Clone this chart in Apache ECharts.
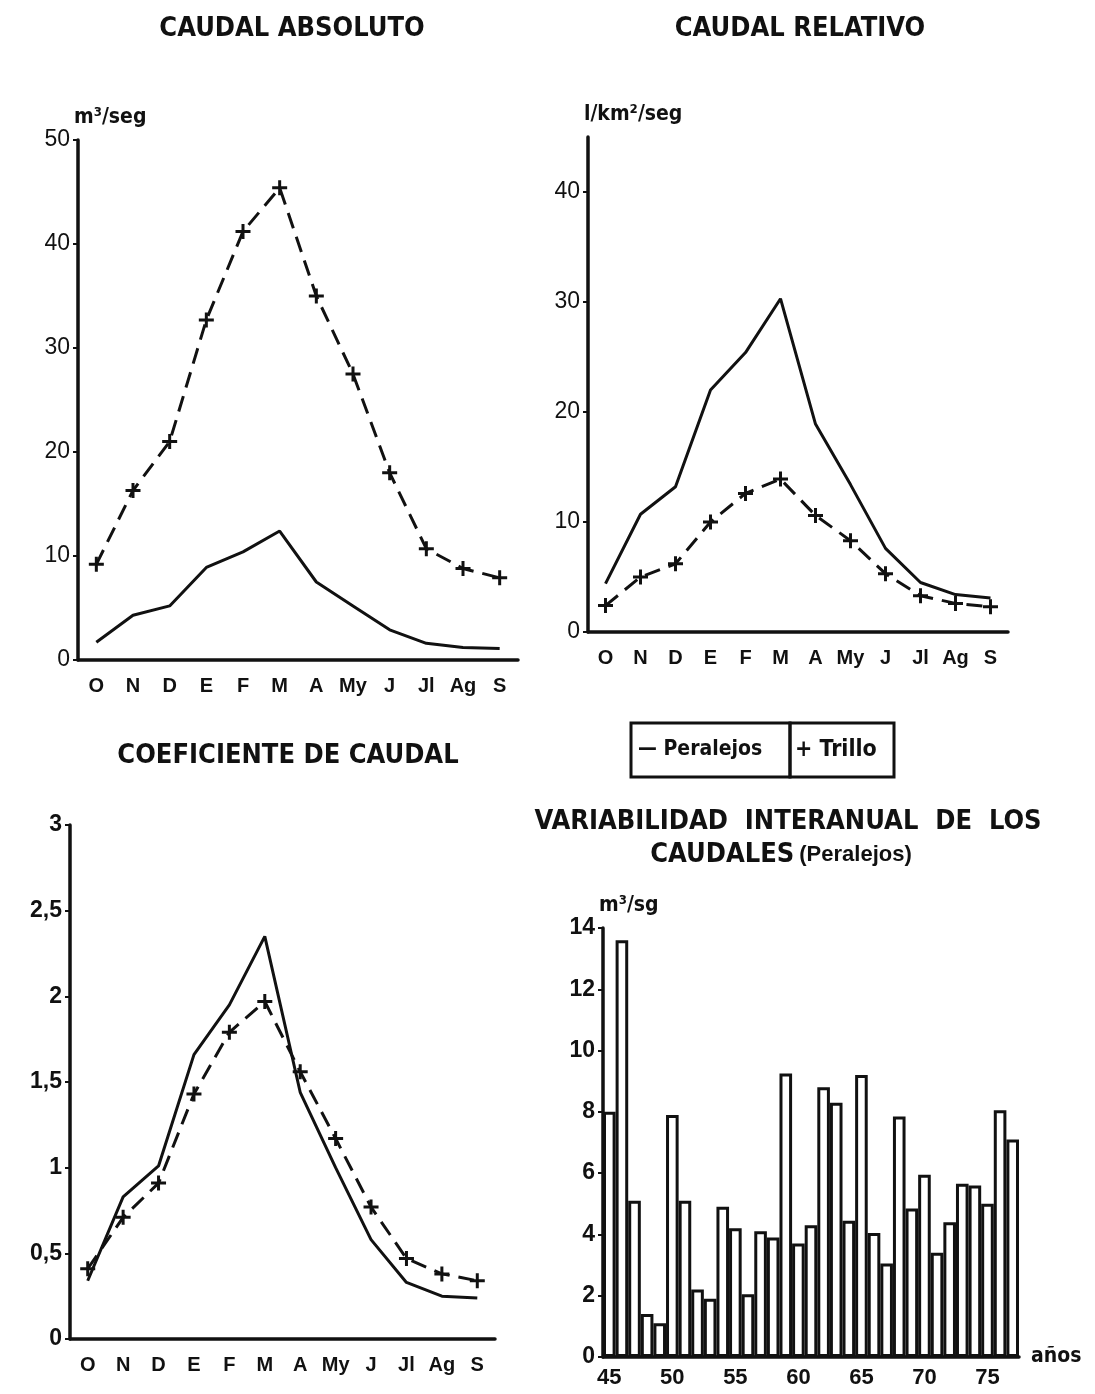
<!DOCTYPE html>
<html>
<head>
<meta charset="utf-8">
<script src="https://cdn.jsdelivr.net/npm/echarts@6/dist/echarts.min.js"></script>
<style>
  html, body { margin: 0; padding: 0; background: #fff; }
  #main { width: 1095px; height: 1394px; }
</style>
</head>
<body>
<div id="main"></div>
<script>
// meses del año hidrológico
var meses = ['O', 'N', 'D', 'E', 'F', 'M', 'A', 'My', 'J', 'Jl', 'Ag', 'S'];

// caudal absoluto (m3/seg)
var absPeralejos = [1.7, 4.3, 5.2, 8.9, 10.4, 12.4, 7.5, 5.2, 2.9, 1.6, 1.2, 1.1];
var absTrillo = [9.2, 16.3, 21.0, 32.7, 41.2, 45.4, 35.0, 27.5, 18.0, 10.7, 8.8, 7.9];

// caudal relativo (l/km2/seg)
var relPeralejos = [4.4, 10.7, 13.2, 22.0, 25.4, 30.3, 18.9, 13.4, 7.6, 4.5, 3.4, 3.1];
var relTrillo = [2.4, 5.0, 6.2, 10.0, 12.6, 13.9, 10.6, 8.3, 5.3, 3.3, 2.6, 2.3];

// coeficiente de caudal
var coefPeralejos = [0.34, 0.83, 1.01, 1.66, 1.95, 2.35, 1.44, 1.0, 0.58, 0.33, 0.25, 0.24];
var coefTrillo = [0.41, 0.71, 0.91, 1.43, 1.79, 1.97, 1.56, 1.17, 0.77, 0.47, 0.38, 0.34];

// variabilidad interanual (Peralejos), m3/sg
var anos = [];
for (var a = 45; a <= 77; a++) anos.push(String(a));
var caudalAnual = [8.0, 13.6, 5.1, 1.4, 1.1, 7.9, 5.1, 2.2, 1.9, 4.9, 4.2, 2.05,
  4.1, 3.9, 9.25, 3.7, 4.3, 8.8, 8.3, 4.45, 9.2, 4.05, 3.05, 7.85, 4.85, 5.95,
  3.4, 4.4, 5.65, 5.6, 5.0, 8.05, 7.1];

var FONT = '"Liberation Sans", "DejaVu Sans", sans-serif';
var NARROW = '"Liberation Sans Narrow", "DejaVu Sans Condensed", "Liberation Sans", sans-serif';
var PLUS = 'path://M4,0h2v4h4v2h-4v4h-2v-4h-4v-2h4z';

function ejeX(grid, tick) {
  return {
    type: 'category', gridIndex: grid, data: meses, boundaryGap: true,
    axisLine: { lineStyle: { color: '#111', width: 3.5 } },
    axisTick: { alignWithLabel: true, interval: 0, length: tick, lineStyle: { color: '#111', width: 3 } },
    axisLabel: { color: '#111', fontSize: 20, fontWeight: 'bold', fontFamily: FONT, margin: 16, interval: 0 },
    splitLine: { show: false }
  };
}
function ejeY(grid, max, interval, nombre, fmt, bold) {
  return {
    type: 'value', gridIndex: grid, min: 0, max: max, interval: interval,
    name: nombre, nameLocation: 'end', nameGap: 12,
    nameTextStyle: { color: '#111', fontSize: 21, fontWeight: 'bold', fontFamily: NARROW, align: 'left', verticalAlign: 'bottom', padding: [0, 0, 0, -4] },
    axisLine: { show: true, lineStyle: { color: '#111', width: 3.5 } },
    axisTick: { show: true, length: 5, lineStyle: { color: '#111', width: 2 } },
    axisLabel: { color: '#111', fontSize: 23, fontWeight: bold ? 'bold' : 'normal', fontFamily: FONT, margin: 8, showMaxLabel: max % interval === 0, formatter: fmt },
    splitLine: { show: false }
  };
}
function linea(grid, datos) {
  return {
    type: 'line', xAxisIndex: grid, yAxisIndex: grid, data: datos,
    showSymbol: false, symbol: 'none', silent: true,
    lineStyle: { color: '#111', width: 3 }
  };
}
function lineaTrillo(grid, datos) {
  return {
    type: 'line', xAxisIndex: grid, yAxisIndex: grid, data: datos,
    symbol: PLUS, symbolSize: 15, silent: true,
    itemStyle: { color: '#111' },
    lineStyle: { color: '#111', width: 3, type: [16, 9] }
  };
}

var chart = echarts.init(document.getElementById('main'), null, { renderer: 'canvas' });
var option = {
  backgroundColor: '#fff',
  animation: false,
  title: [
    { text: 'CAUDAL ABSOLUTO', left: 287, top: 10, textAlign: 'center', textStyle: { fontFamily: NARROW, fontSize: 27, fontWeight: 'bold', color: '#111' } },
    { text: 'CAUDAL RELATIVO', left: 795, top: 10, textAlign: 'center', textStyle: { fontFamily: NARROW, fontSize: 27, fontWeight: 'bold', color: '#111' } },
    { text: 'COEFICIENTE DE CAUDAL', left: 283, top: 737, textAlign: 'center', textStyle: { fontFamily: NARROW, fontSize: 27, fontWeight: 'bold', color: '#111' } },
    { text: 'VARIABILIDAD  INTERANUAL  DE  LOS', left: 783, top: 803, textAlign: 'center', textStyle: { fontFamily: NARROW, fontSize: 27, fontWeight: 'bold', color: '#111' } },
    {
      text: '{b|CAUDALES} {n|(Peralejos)}', left: 776, top: 836, textAlign: 'center',
      textStyle: { rich: {
        b: { fontFamily: NARROW, fontSize: 27, fontWeight: 'bold', color: '#111' },
        n: { fontFamily: FONT, fontSize: 22, fontWeight: 'bold', color: '#111' }
      } }
    }
  ],
  grid: [
    { left: 78, top: 140, width: 440, height: 520 },
    { left: 588, top: 137, width: 420, height: 495 },
    { left: 70, top: 825, width: 425, height: 514 },
    { left: 603, top: 928, width: 416, height: 429 }
  ],
  xAxis: [
    ejeX(0, 8), ejeX(1, 8), ejeX(2, 5),
    {
      type: 'category', gridIndex: 3, data: anos, boundaryGap: true,
      name: 'años', nameLocation: 'end', nameGap: 12,
      nameTextStyle: { color: '#111', fontSize: 21, fontWeight: 'bold', fontFamily: NARROW, verticalAlign: 'middle' },
      axisLine: { lineStyle: { color: '#111', width: 3.5 } },
      axisTick: { show: false },
      axisLabel: { color: '#111', fontSize: 22, fontWeight: 'bold', fontFamily: FONT, interval: 4, margin: 10 }
    }
  ],
  yAxis: [
    ejeY(0, 50, 10, 'm³/seg', null, false),
    ejeY(1, 45, 10, 'l/km²/seg', null, false),
    ejeY(2, 3, 0.5, '', function (v) { return String(v).replace('.', ','); }, true),
    ejeY(3, 14, 2, 'm³/sg', null, true)
  ],
  series: [
    linea(0, absPeralejos), lineaTrillo(0, absTrillo),
    linea(1, relPeralejos), lineaTrillo(1, relTrillo),
    linea(2, coefPeralejos), lineaTrillo(2, coefTrillo),
    {
      type: 'bar', xAxisIndex: 3, yAxisIndex: 3, data: caudalAnual,
      barCategoryGap: 0, silent: true,
      itemStyle: { color: '#fff', borderColor: '#111', borderWidth: 3 }
    }
  ],
  graphic: [
    { type: 'rect', shape: { x: 631, y: 723, width: 159, height: 54 }, style: { fill: 'none', stroke: '#111', lineWidth: 3 } },
    { type: 'rect', shape: { x: 790, y: 723, width: 104, height: 54 }, style: { fill: 'none', stroke: '#111', lineWidth: 3 } },
    { type: 'text', x: 638, y: 750, style: { text: '— Peralejos', fill: '#111', font: 'bold 21px ' + NARROW, verticalAlign: 'middle' } },
    { type: 'text', x: 795, y: 750, style: { text: '+ Trillo', fill: '#111', font: 'bold 23px ' + NARROW, verticalAlign: 'middle' } }
  ]
};
chart.setOption(option);
</script>
</body>
</html>
